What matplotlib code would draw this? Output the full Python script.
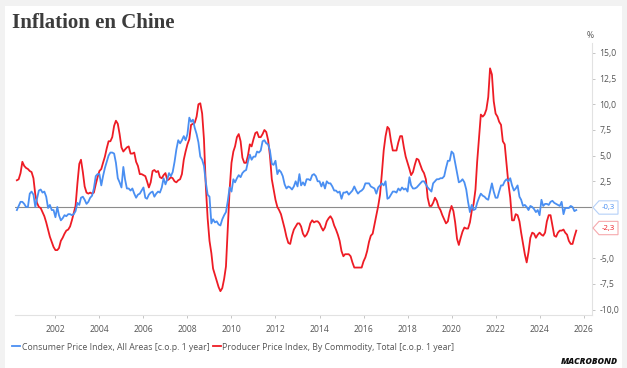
"""Inflation en Chine : IPC et IPP en glissement annuel."""
import pandas as pd
import matplotlib.pyplot as plt
import matplotlib.dates as mdates
from matplotlib.patches import Polygon, Rectangle

# IPC, glissement annuel (%), mensuel depuis avril 2000
cpi = [
    -0.3, 0.1, 0.5, 0.5, 0.3, 0.0, 0.0, 1.3, 1.5,
    1.2, 0.0, 0.8, 1.6, 1.7, 1.4, 1.5, 1.0, -0.1, 0.2, -0.3, -0.3,
    -1.0, 0.0, -0.8, -1.3, -1.1, -0.8, -0.9, -0.7, -0.7, -0.8, -0.7, -0.4,
    0.4, 0.2, 0.9, 1.0, 0.7, 0.3, 0.5, 0.9, 1.1, 1.8, 3.0, 3.2,
    3.2, 2.1, 3.0, 3.8, 4.4, 5.0, 5.3, 5.3, 5.2, 4.3, 2.8, 2.4,
    1.9, 3.9, 2.7, 1.8, 1.8, 1.6, 1.8, 1.3, 0.9, 1.2, 1.3, 1.6,
    1.9, 0.9, 0.8, 1.2, 1.4, 1.5, 1.0, 1.3, 1.5, 1.4, 1.9, 2.8,
    2.2, 2.7, 3.3, 3.0, 3.4, 4.4, 5.6, 6.5, 6.2, 6.5, 6.9, 6.5,
    7.1, 8.7, 8.3, 8.5, 7.7, 7.1, 6.3, 4.9, 4.6, 4.0, 2.4, 1.2,
    1.0, -1.6, -1.2, -1.5, -1.4, -1.7, -1.8, -1.2, -0.8, -0.5, 0.6, 1.9,
    1.5, 2.7, 2.4, 2.8, 3.1, 2.9, 3.3, 3.5, 3.6, 4.4, 5.1, 4.6,
    4.9, 4.9, 5.4, 5.3, 5.5, 6.4, 6.5, 6.2, 6.1, 5.5, 4.2, 4.1,
    4.5, 3.2, 3.6, 3.4, 3.0, 2.2, 1.8, 2.0, 1.9, 1.7, 2.0, 2.5,
    2.0, 3.2, 2.1, 2.4, 2.1, 2.7, 2.7, 2.6, 3.1, 3.2, 3.0, 2.5,
    2.5, 2.0, 2.4, 1.8, 2.5, 2.3, 2.3, 2.0, 1.6, 1.6, 1.4, 1.5,
    0.8, 1.4, 1.4, 1.5, 1.2, 1.4, 1.6, 2.0, 1.6, 1.3, 1.5, 1.6,
    1.8, 2.3, 2.3, 2.3, 2.0, 1.9, 1.8, 1.3, 1.9, 2.1, 2.3, 2.1,
    2.5, 0.8, 0.9, 1.2, 1.5, 1.5, 1.4, 1.8, 1.6, 1.9, 1.7, 1.8,
    1.5, 2.9, 2.1, 1.8, 1.8, 1.9, 2.1, 2.3, 2.5, 2.5, 2.2, 1.9,
    1.7, 1.5, 2.3, 2.5, 2.7, 2.7, 2.8, 2.8, 3.0, 3.8, 4.5, 4.5,
    5.4, 5.2, 4.3, 3.3, 2.4, 2.5, 2.7, 2.4, 1.7, 0.5, -0.5, 0.2,
    -0.3, -0.2, 0.4, 0.9, 1.3, 1.1, 1.0, 0.8, 0.7, 1.5, 2.3, 1.5,
    0.9, 0.9, 1.5, 2.1, 2.1, 2.5, 2.7, 2.5, 2.8, 2.1, 1.6, 1.8,
    2.1, 1.0, 0.7, 0.1, 0.2, 0.0, -0.3, 0.1, 0.0, -0.2, -0.5, -0.3,
    -0.8, 0.7, 0.1, 0.3, 0.3, 0.2, 0.5, 0.6, 0.4, 0.3, 0.2, 0.1,
    0.5, -0.7, -0.1, -0.1, -0.1, 0.1, 0.0, -0.4, -0.3,
]

# IPP, glissement annuel (%), mensuel depuis avril 2000
ppi = [
    2.6, 2.7, 3.3, 4.4, 4.0, 3.8, 3.7, 3.5, 3.4,
    2.8, 1.2, 0.4, 0.0, -0.1, -0.5, -0.9, -1.5, -2.2, -2.9, -3.4, -3.9,
    -4.2, -4.2, -4.0, -3.3, -3.0, -2.6, -2.3, -2.2, -1.9, -1.3, -0.6, 0.1,
    2.3, 4.2, 4.6, 3.4, 2.0, 1.4, 1.3, 1.4, 1.3, 1.4, 2.2, 2.9,
    3.5, 3.7, 4.3, 4.9, 5.7, 6.4, 6.4, 6.8, 7.9, 8.4, 8.1, 7.1,
    5.8, 5.4, 5.6, 5.8, 5.9, 5.2, 5.2, 5.3, 4.4, 4.0, 3.2, 3.2,
    3.1, 3.0, 2.5, 1.9, 2.4, 3.5, 3.6, 3.4, 3.5, 2.9, 2.8, 3.1,
    3.3, 2.6, 2.7, 2.9, 2.8, 2.5, 2.4, 2.6, 2.7, 3.2, 4.6, 5.4,
    6.1, 6.6, 8.0, 8.1, 8.2, 8.8, 10.0, 10.1, 9.1, 6.6, 2.0, -1.1,
    -3.3, -4.5, -6.0, -6.6, -7.2, -7.8, -8.2, -7.9, -7.0, -5.8, -2.1, 1.7,
    4.3, 5.4, 5.9, 6.8, 7.1, 6.4, 4.8, 4.3, 4.3, 5.0, 6.1, 5.9,
    6.6, 7.2, 7.3, 6.8, 6.8, 7.1, 7.5, 7.3, 6.5, 5.0, 2.7, 1.7,
    0.7, 0.0, -0.3, -0.7, -1.4, -2.1, -2.9, -3.5, -3.6, -2.8, -2.2, -1.9,
    -1.6, -1.6, -1.9, -2.6, -2.9, -2.7, -2.3, -1.6, -1.3, -1.5, -1.4, -1.4,
    -1.6, -2.0, -2.3, -2.0, -1.4, -1.1, -0.9, -1.2, -1.8, -2.2, -2.7, -3.3,
    -4.3, -4.8, -4.6, -4.6, -4.6, -4.8, -5.4, -5.9, -5.9, -5.9, -5.9, -5.9,
    -5.3, -4.9, -4.3, -3.4, -2.8, -2.6, -1.7, -0.8, 0.1, 1.2, 3.3, 5.5,
    6.9, 7.8, 7.6, 6.4, 5.5, 5.5, 5.5, 6.3, 6.9, 6.9, 5.8, 4.9,
    4.3, 3.7, 3.1, 3.4, 4.1, 4.7, 4.6, 4.1, 3.6, 3.3, 2.7, 0.9,
    0.1, 0.1, 0.4, 0.9, 0.6, 0.0, -0.3, -0.8, -1.2, -1.6, -1.4, -0.5,
    0.1, -0.4, -1.5, -3.1, -3.7, -3.0, -2.4, -2.0, -2.1, -2.1, -1.5, -0.4,
    0.3, 1.7, 4.4, 6.8, 9.0, 8.8, 9.0, 9.5, 10.7, 13.5, 12.9, 10.3,
    9.1, 8.8, 8.3, 8.0, 6.4, 6.1, 4.2, 2.3, 0.9, -1.3, -1.3, -0.7,
    -0.8, -1.4, -2.5, -3.6, -4.6, -5.4, -4.4, -3.0, -2.5, -2.6, -3.0, -2.7,
    -2.5, -2.7, -2.8, -2.5, -1.4, -0.8, -0.8, -1.8, -2.8, -2.9, -2.5, -2.3,
    -2.3, -2.2, -2.5, -2.7, -3.3, -3.6, -3.6, -2.9, -2.3,
]

dates = pd.date_range("2000-04-01", periods=len(cpi), freq="MS")
years = list(range(2002, 2027, 2))
yticks = [-10, -7.5, -5, 2.5, 5, 7.5, 10, 12.5, 15]

BLUE = "#4a8ff2"
RED = "#ee1c25"
GREY = "#555555"
FONT = "Open Sans"

fig = plt.figure(figsize=(6.27, 3.68), dpi=100, facecolor="#f2f2f2")
fig.patches.append(Rectangle((5 / 627, 0), 617 / 627, 1 - 6 / 368,
                             transform=fig.transFigure, facecolor="white",
                             edgecolor="none", zorder=-10))

ax = fig.add_axes([15 / 627, 0.1446, 577 / 627, 0.7394])
ax.set_facecolor("none")

ax.axhline(0, color="#8c8c8c", lw=0.8, zorder=1)
l1, = ax.plot(dates, cpi, color=BLUE, lw=1.3, zorder=3)
l2, = ax.plot(dates, ppi, color=RED, lw=1.3, zorder=2)

ax.set_ylim(-10.5, 16.0)
ax.set_xlim(pd.Timestamp("2000-03-01"), pd.Timestamp("2026-05-20"))

for s in ["top", "left"]:
    ax.spines[s].set_visible(False)
for s in ["bottom", "right"]:
    ax.spines[s].set_color("#e2e2e2")
    ax.spines[s].set_linewidth(0.8)

ax.yaxis.tick_right()
ax.set_yticks(yticks)
ax.set_yticklabels([f"{v:.1f}".replace(".", ",") for v in yticks])
ax.set_xticks([pd.Timestamp(f"{y}-01-01") for y in years])
ax.xaxis.set_major_formatter(mdates.DateFormatter("%Y"))
ax.tick_params(axis="y", length=2.5, width=0.6, color="#bbbbbb", pad=3,
               labelsize=6.2, labelcolor=GREY)
ax.tick_params(axis="x", length=2.5, width=0.6, color="#bbbbbb", pad=5,
               labelsize=6.2, labelcolor=GREY)
for lab in ax.get_xticklabels() + ax.get_yticklabels():
    lab.set_fontfamily(FONT)

ax.text(0.997, 1.01, "%", transform=ax.transAxes, ha="center", va="bottom",
        fontsize=6.2, color=GREY, family=FONT)

# étiquettes de dernière valeur, en forme d'étiquette à droite de l'axe
tr = ax.get_yaxis_transform()
px = 1 / 577
for val, col, edge in [(cpi[-1], BLUE, "#b5d0f8"), (ppi[-1], RED, "#f6a9ad")]:
    yc = val + 0.25
    h = 0.65
    pts = [(1 + 1 * px, yc), (1 + 7 * px, yc + h), (1 + 26 * px, yc + h),
           (1 + 26 * px, yc - h), (1 + 7 * px, yc - h)]
    ax.add_patch(Polygon(pts, closed=True, transform=tr, facecolor="white",
                         edgecolor=edge, lw=0.8, clip_on=False, zorder=5))
    ax.text(1 + 16.5 * px, yc, f"{val:.1f}".replace(".", ","), transform=tr,
            ha="center", va="center", fontsize=5.6, color=col, family=FONT,
            zorder=6)

fig.text(12 / 627, 1 - 28 / 368, "Inflation en Chine", ha="left",
         va="baseline", fontsize=15, fontweight="bold",
         family="Liberation Serif", color="#3c3c3c")

fig.legend([l1, l2],
           ["Consumer Price Index, All Areas [c.o.p. 1 year]",
            "Producer Price Index, By Commodity, Total [c.o.p. 1 year]"],
           loc="center left", bbox_to_anchor=(0.012, 0.057), ncol=2,
           frameon=False, handlelength=0.9, handletextpad=0.2,
           columnspacing=0.4, borderpad=0,
           prop={"family": FONT, "size": 6.3}, labelcolor=GREY)

fig.text(618 / 627, 1 - 362 / 368, "MACROBOND", ha="right", va="center",
         fontsize=6.4, fontweight="heavy", style="italic", family=FONT,
         color="#111111")

fig.savefig("out.png", dpi=100, facecolor=fig.get_facecolor())
